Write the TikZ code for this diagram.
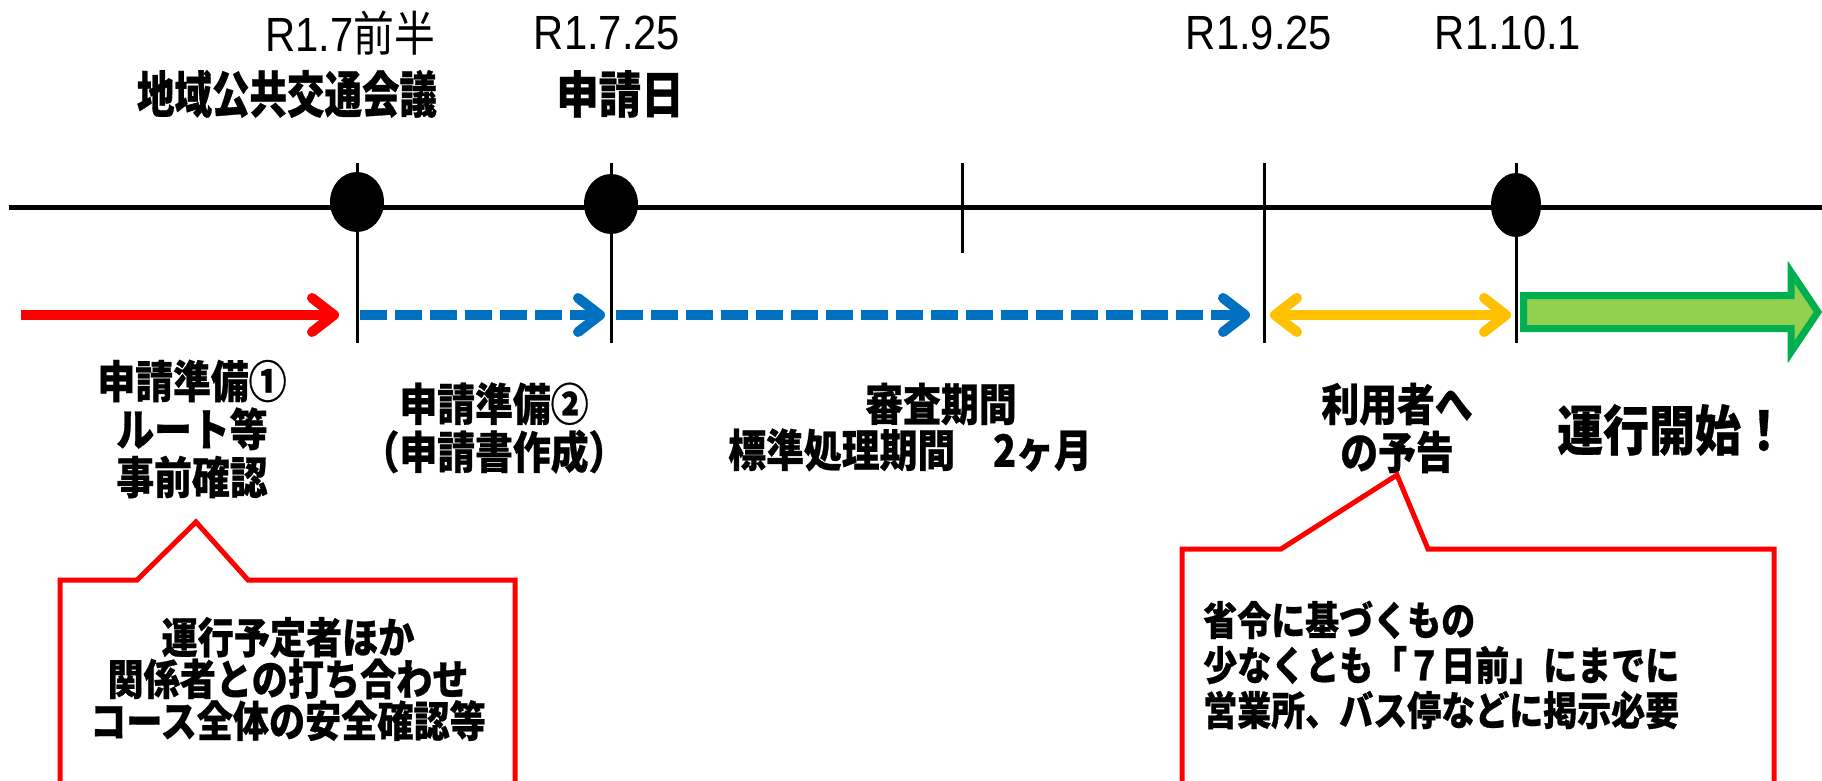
\documentclass[tikz,border=0pt]{standalone}
\usepackage{fontspec}
\setmainfont{Noto Sans CJK JP}
\newfontfamily\jpc{Noto Sans CJK JP}[FakeStretch=0.85, BoldFeatures={FakeBold=0.6}]
\newfontfamily\jph{Noto Sans CJK JP}[FakeStretch=0.75, BoldFeatures={FakeBold=0.6}]
\newfontfamily\jpr{Noto Sans CJK JP}[FakeStretch=0.85]
\newfontfamily\lat{Liberation Sans}[FakeStretch=0.87]
\usetikzlibrary{arrows.meta,shapes.geometric}
\definecolor{cRed}{RGB}{255,0,0}
\definecolor{cBlue}{RGB}{0,112,192}
\definecolor{cYel}{RGB}{255,192,0}
\definecolor{cGrn}{RGB}{0,176,80}
\definecolor{cLgr}{RGB}{146,208,80}
\begin{document}
\begin{tikzpicture}[x=1pt,y=-1pt,
  lbl/.style={font=\jpc\bfseries\fontsize{44.5}{48}\selectfont, align=center, inner sep=0pt},
  headlbl/.style={font=\jph\bfseries\fontsize{50}{52}\selectfont, inner sep=0pt},
  datelbl/.style={font=\lat\fontsize{48}{50}\selectfont, inner sep=0pt},
  calltext/.style={font=\jpc\bfseries\fontsize{42.5}{40}\selectfont, align=center, inner sep=0pt},
  calltextb/.style={font=\jpc\bfseries\fontsize{40}{45}\selectfont, align=left, inner sep=0pt, anchor=west},
  tickline/.style={line width=3pt},
  dotnode/.style={ellipse, fill=black, inner sep=0pt, minimum width=54pt, minimum height=60pt},
  barb/.style={-{Straight Barb[length=22pt,width=34pt,round]}},
  shaft/.style={line width=10pt, barb},
  dashshaft/.style={line width=10pt, barb, dash pattern=on 27pt off 8pt},
  callout/.style={draw=cRed, line width=5pt, line join=miter},
]
\useasboundingbox (0,0) rectangle (1822,781);
\fill[white] (0,0) rectangle (1822,781);

% timeline
\coordinate (tl0) at (9,207);
\coordinate (tl1) at (1822,207);
\draw[line width=5pt] (tl0) -- (tl1);

% vertical ticks
\coordinate (v1t) at (357,163); \coordinate (v1b) at (357,343);
\coordinate (v2t) at (611,163); \coordinate (v2b) at (611,343);
\coordinate (v3t) at (962,163); \coordinate (v3b) at (962,253);
\coordinate (v4t) at (1264,163); \coordinate (v4b) at (1264,343);
\coordinate (v5t) at (1516,163); \coordinate (v5b) at (1516,343);
\draw[tickline] (v1t) -- (v1b);
\draw[tickline] (v2t) -- (v2b);
\draw[tickline] (v3t) -- (v3b);
\draw[tickline] (v4t) -- (v4b);
\draw[tickline] (v5t) -- (v5b);

% dots
\node[dotnode] (d1) at (357,202) {};
\node[dotnode] (d2) at (611,204) {};
\node[dotnode, minimum width=50pt, minimum height=64pt] (d3) at (1516,205) {};

% dates
\node[datelbl] (t1) at (350,33) {R1.7{\jpr 前半}};
\node[datelbl] (t2) at (607,33) {R1.7.25};
\node[datelbl] (t3) at (1259,33) {R1.9.25};
\node[datelbl] (t4) at (1508,33) {R1.10.1};
\node[headlbl] (h1) at (287,94) {地域公共交通会議};
\node[headlbl, font=\jpc\bfseries\fontsize{50}{52}\selectfont] (h2) at (620,94) {申請日};

% arrows
\coordinate (a0) at (21,315);
\coordinate (a1) at (339,315);
\coordinate (b0) at (360,315);
\coordinate (b1) at (605,315);
\coordinate (c0) at (616,315);
\coordinate (c1) at (1250,315);
\coordinate (y0) at (1270,315);
\coordinate (y1) at (1511,315);
\draw[shaft, cRed] (a0) -- (a1);
\draw[dashshaft, cBlue] (b0) -- (b1);
\draw[dashshaft, cBlue] (c0) -- (c1);
\draw[shaft, cYel, {Straight Barb[length=22pt,width=34pt,round]}-{Straight Barb[length=22pt,width=34pt,round]}] (y0) -- (y1);

% green block arrow
\draw[cGrn, line width=7pt, fill=cLgr, line join=miter]
  (1523.5,295.5) -- (1791,295.5) -- (1791,272) -- (1818,312) -- (1791,352) -- (1791,328.5) -- (1523.5,328.5) -- cycle;

% labels
\node[lbl] (l1) at (192,429) {申請準備①\\ルート等\\事前確認};
\node[lbl] (l2) at (494,428) {申請準備②\\（申請書作成）};
\node[lbl] (l3a) at (941,404) {審査期間};
\node[lbl] (l3b) at (910,450) {標準処理期間　2ヶ月};
\node[lbl] (l4) at (1397,428) {利用者へ\\の予告};
\node[lbl, font=\jpc\bfseries\fontsize{54}{50}\selectfont] (l5) at (1672,430) {運行開始！};

% callout 1
\draw[callout] (60,800) -- (60,580) -- (137,580) -- (196,522) -- (248,580) -- (515,580) -- (515,800);
\node[calltext] (c1t) at (288,679) {運行予定者ほか\\関係者との打ち合わせ\\コース全体の安全確認等};

% callout 2
\draw[callout] (1182,800) -- (1182,549) -- (1281,549) -- (1397,475) -- (1428,549) -- (1774,549) -- (1774,800);
\node[calltextb] (c2t) at (1203,665) {省令に基づくもの\\少なくとも「７日前」にまでに\\営業所、バス停などに掲示必要};
\end{tikzpicture}
\end{document}
